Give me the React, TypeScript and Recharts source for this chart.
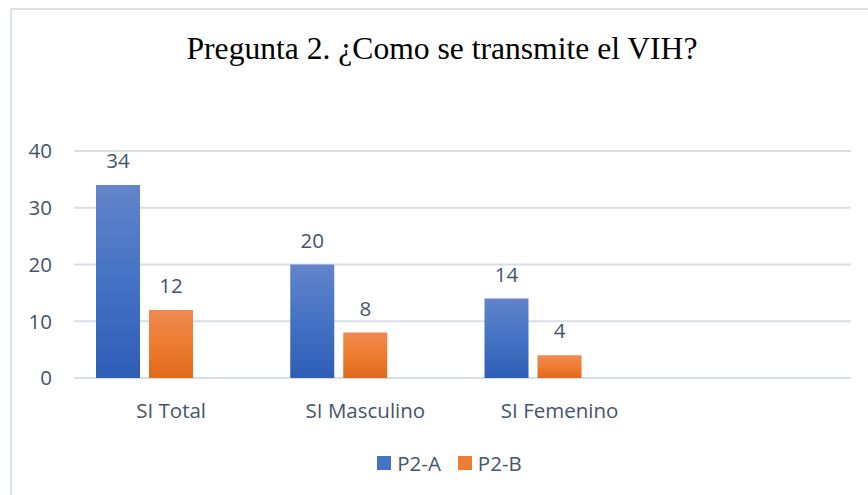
import React from "react";
import {
  BarChart,
  Bar,
  XAxis,
  YAxis,
  CartesianGrid,
  Legend,
  LabelList,
} from "recharts";

const categories = ["SI Total", "SI Masculino", "SI Femenino", ""];
const p2a = [34, 20, 14, null];
const p2b = [12, 8, 4, null];
// third (empty) series keeps the bar groups offset like the original
const p2c = [null, null, null, null];
const yTicks = [0, 10, 20, 30, 40];

const data = categories.map((name, i) => ({
  name,
  a: p2a[i],
  b: p2b[i],
  c: p2c[i],
}));

const textColor = "#44546A";
const font = "'Open Sans', Lato, sans-serif";
const fs = 20.5;
const swatch: Record<string, string> = { a: "#4472C4", b: "#ED7D31" };

const renderLegend = (props: any) => {
  const items = (props.payload || []).filter((p: any) => p.type !== "none");
  return (
    <div
      style={{
        display: "flex",
        justifyContent: "center",
        fontFamily: font,
        fontSize: fs,
        color: textColor,
      }}
    >
      {items.map((p: any, i: number) => (
        <div
          key={i}
          style={{ display: "flex", alignItems: "center", marginRight: 17 }}
        >
          <span
            style={{
              display: "inline-block",
              width: 14,
              height: 14,
              marginRight: 6,
              background: swatch[p.dataKey] || p.color,
            }}
          />
          <span>{p.value}</span>
        </div>
      ))}
    </div>
  );
};

export default function App() {
  return (
    <div
      style={{
        position: "absolute",
        left: 0,
        top: 0,
        width: 868,
        height: 495,
        background: "#fff",
        overflow: "hidden",
      }}
    >
      {/* chart frame, only top and left edges visible */}
      <div
        style={{
          position: "absolute",
          left: 10,
          top: 8,
          width: 870,
          height: 500,
          borderTop: "2px solid #dde1e8",
          borderLeft: "2px solid #dde1e8",
        }}
      />
      <div
        style={{
          position: "absolute",
          left: 0,
          top: 31,
          width: 884,
          textAlign: "center",
          fontFamily: "'Liberation Serif', 'Times New Roman', serif",
          fontSize: 31.6,
          lineHeight: "35px",
          color: "#000",
        }}
      >
        Pregunta 2. ¿Como se transmite el VIH?
      </div>
      <div style={{ position: "absolute", left: 0, top: 0 }}>
        <BarChart
          width={868}
          height={495}
          data={data}
          margin={{ top: 151, right: 17, bottom: 87, left: 0 }}
          barSize={44}
          barGap={9}
          barCategoryGap={22}
        >
          <defs>
            <linearGradient id="gradA" x1="0" y1="0" x2="0" y2="1">
              <stop offset="0%" stopColor="#6384CA" />
              <stop offset="50%" stopColor="#4472C4" />
              <stop offset="100%" stopColor="#2E5DB6" />
            </linearGradient>
            <linearGradient id="gradB" x1="0" y1="0" x2="0" y2="1">
              <stop offset="0%" stopColor="#F08A51" />
              <stop offset="50%" stopColor="#ED7D31" />
              <stop offset="100%" stopColor="#E0691A" />
            </linearGradient>
          </defs>
          <CartesianGrid vertical={false} stroke="#D9DDE4" strokeWidth={2} />
          <XAxis
            dataKey="name"
            height={30}
            axisLine={false}
            tickLine={false}
            tickSize={0}
            tickMargin={25}
            interval={0}
            tick={{ fill: textColor, fontSize: fs, fontFamily: font }}
          />
          <YAxis
            width={74}
            domain={[0, 40]}
            ticks={yTicks}
            axisLine={false}
            tickLine={false}
            tickSize={0}
            tickMargin={22}
            tick={{ fill: textColor, fontSize: fs, fontFamily: font }}
          />
          <Legend
            layout="horizontal"
            verticalAlign="middle"
            align="center"
            content={renderLegend}
            wrapperStyle={{ top: 449, left: 24, width: 868 }}
          />
          <Bar dataKey="a" name="P2-A" fill="url(#gradA)" isAnimationActive={false}>
            <LabelList
              dataKey="a"
              position="top"
              offset={17}
              fill={textColor}
              fontSize={fs}
              fontFamily={font}
            />
          </Bar>
          <Bar dataKey="b" name="P2-B" fill="url(#gradB)" isAnimationActive={false}>
            <LabelList
              dataKey="b"
              position="top"
              offset={17}
              fill={textColor}
              fontSize={fs}
              fontFamily={font}
            />
          </Bar>
          <Bar
            dataKey="c"
            name=""
            fill="none"
            legendType="none"
            isAnimationActive={false}
          />
        </BarChart>
      </div>
    </div>
  );
}
